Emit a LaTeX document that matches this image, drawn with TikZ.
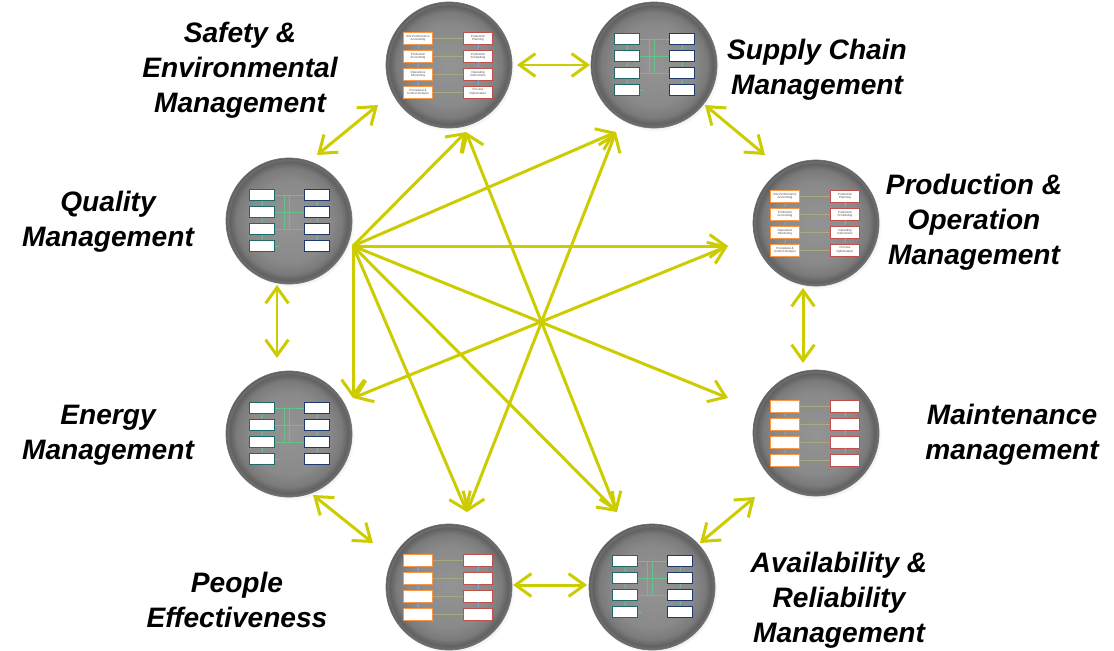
\documentclass[tikz,border=0pt]{standalone}
\usepackage{fontspec}
\setmainfont{Liberation Sans}
\usetikzlibrary{arrows.meta,shadows}

\definecolor{linkcol}{RGB}{204,204,0}
\definecolor{boxorange}{RGB}{247,150,70}
\definecolor{boxred}{RGB}{192,80,77}
\definecolor{boxteal}{RGB}{30,105,105}
\definecolor{boxnavy}{RGB}{31,56,110}
\definecolor{wiregreen}{RGB}{100,195,135}
\definecolor{wiregray}{RGB}{165,170,130}
\definecolor{stepblue}{RGB}{130,160,205}

\pgfdeclareradialshading{button}{\pgfpoint{0bp}{0bp}}{color(0bp)=(black!42); color(16bp)=(black!46); color(21bp)=(black!52); color(23.5bp)=(black!62); color(24.5bp)=(black!56); color(25bp)=(black!66); color(50bp)=(black!66)}

\tikzset{
  disc/.style={circle, minimum size=2.52cm, inner sep=0pt, shading=button, draw=black!55, line width=0.4pt,
    circular drop shadow={shadow xshift=1pt, shadow yshift=-1.5pt, shadow scale=1.01, opacity=0.3}},
  link/.style={draw=linkcol, line width=1.7pt},
  biglabel/.style={align=center, font=\fontsize{16}{19.8}\selectfont\bfseries\itshape},
  cellbox/.style={rectangle, fill=white, line width=0.5pt, minimum width=0.58cm, minimum height=0.24cm,
    inner sep=0pt, font=\fontsize{1.7}{2}\selectfont, text=black!70, align=center},
  smallbox/.style={rectangle, fill=white, line width=0.6pt, minimum width=0.5cm, minimum height=0.22cm, inner sep=0pt},
  stepwire/.style={draw=stepblue, line width=0.3pt, -{Latex[length=1.2pt,width=1.2pt]}},
  greenwire/.style={draw=wiregreen, line width=0.4pt},
  pics/boardA/.style={code={
    \foreach \i/\y/\l/\r in {1/-27/{Site Performance\\Accounting}/{Production\\Planning},
                             2/-9/{Production\\Accounting}/{Production\\Scheduling},
                             3/9/{Operations\\Monitoring}/{Operating\\Instructions},
                             4/27/{Procedural \&\\Control Analysis}/{Process\\Optimization}}{
      \node[cellbox, draw=boxorange] (-l\i) at (-31,\y) {\l};
      \node[cellbox, draw=boxred] (-r\i) at (29,\y) {\r};
      \draw[draw=wiregray, line width=0.4pt] (-l\i) -- (-r\i);
    }
    \foreach \i/\j in {1/2,2/3,3/4}{
      \draw[stepwire] (-l\i) -- (-l\j);
      \draw[stepwire] (-r\i) -- (-r\j);
    }
  }},
  pics/boardC/.style={code={
    \foreach \i/\y in {1/-27,2/-9,3/9,4/27}{
      \node[cellbox, draw=boxorange] (-l\i) at (-31,\y) {};
      \node[cellbox, draw=boxred] (-r\i) at (29,\y) {};
      \draw[draw=wiregray, line width=0.4pt] (-l\i) -- (-r\i);
    }
    \foreach \i/\j in {1/2,2/3,3/4}{
      \draw[stepwire] (-l\i) -- (-l\j);
      \draw[stepwire] (-r\i) -- (-r\j);
    }
  }},
  pics/boardB/.style={code={
    \foreach \i/\y in {1/-26,2/-9,3/8,4/25}{
      \node[smallbox, draw=boxteal] (-l\i) at (-27,\y) {};
      \node[smallbox, draw=boxnavy] (-r\i) at (28,\y) {};
    }
    \draw[greenwire] (-5,-26) -- (-5,8) (0,-26) -- (0,8);
    \foreach \i in {1,2,3}
      \draw[greenwire] (-l\i) -- (-r\i);
    \draw[greenwire] (-l4.east) -- ++(4,0);
    \foreach \i/\j in {1/2,2/3,3/4}{
      \draw[greenwire, -{Latex[length=1.2pt,width=1.2pt]}] (-l\i) -- (-l\j);
      \draw[greenwire, -{Latex[length=1.2pt,width=1.2pt]}] (-r\i) -- (-r\j);
    }
  }},
}

\begin{document}
\begin{tikzpicture}[x=0.02cm, y=-0.02cm, >={Straight Barb[length=9pt,width=13pt]}]
\useasboundingbox[fill=white] (0,0) rectangle (1114,650);

% the eight buttons
\node[disc] (saf) at (449,65) {};
\node[disc] (sup) at (654,65) {};
\node[disc] (qua) at (289,221) {};
\node[disc] (pro) at (816,223) {};
\node[disc] (ene) at (289,434) {};
\node[disc] (mai) at (816,433) {};
\node[disc] (peo) at (449,587) {};
\node[disc] (ava) at (652,587) {};

\pic (safb) at (saf) {boardA};
\pic (supb) at (sup) {boardB};
\pic (quab) at (qua) {boardB};
\pic (prob) at (pro) {boardA};
\pic (eneb) at (ene) {boardB};
\pic (maib) at (mai) {boardC};
\pic (peob) at (peo) {boardC};
\pic (avab) at (ava) {boardB};

% labels
\node[biglabel] (safl) at (240,70) {Safety \&\\Environmental\\Management};
\node[biglabel] (supl) at (817,70) {Supply Chain\\Management};
\node[biglabel] (qual) at (108,222) {Quality\\Management};
\node[biglabel] (prol) at (974,222) {Production \&\\Operation\\Management};
\node[biglabel] (enel) at (108,435) {Energy\\Management};
\node[biglabel] (mail) at (1012,435) {Maintenance\\management};
\node[biglabel] (peol) at (237,600) {People\\Effectiveness};
\node[biglabel] (aval) at (839,600) {Availability \&\\Reliability\\Management};

% ends of the links in the middle
\coordinate (hub) at (353,246);
\coordinate (safin) at (466,132);
\coordinate (supin) at (616,132);
\coordinate (proin) at (728,246);
\coordinate (maiin) at (728,398);
\coordinate (avain) at (617,512);
\coordinate (peoin) at (467,512);
\coordinate (enein) at (353,398);

\foreach \t in {safin,supin,proin,maiin,avain,peoin,enein}
  \draw[link,->] (hub) -- (\t);
\draw[link,<->] (safin) -- (avain);
\draw[link,<->] (supin) -- (peoin);
\draw[link,<->] (proin) -- (enein);

% ends of the links round the ring
\coordinate (safe) at (517,65);   \coordinate (supw) at (590,65);
\coordinate (safs) at (378,105);  \coordinate (quan) at (317,155);
\coordinate (sups) at (705,105);  \coordinate (pron) at (765,155);
\coordinate (quas) at (277,285);  \coordinate (enen) at (277,358);
\coordinate (pros) at (803,288);  \coordinate (main) at (803,363);
\coordinate (enes) at (313,495);  \coordinate (peon) at (373,543);
\coordinate (mais) at (755,497);  \coordinate (avan) at (700,543);
\coordinate (peoe) at (513,585);  \coordinate (avaw) at (587,585);

\draw[link,<->] (safe) -- (supw);
\draw[link,<->] (safs) -- (quan);
\draw[link,<->] (sups) -- (pron);
\draw[link,<->] (quas) -- (enen);
\draw[link,<->] (pros) -- (main);
\draw[link,<->] (enes) -- (peon);
\draw[link,<->] (mais) -- (avan);
\draw[link,<->] (peoe) -- (avaw);
\end{tikzpicture}
\end{document}
